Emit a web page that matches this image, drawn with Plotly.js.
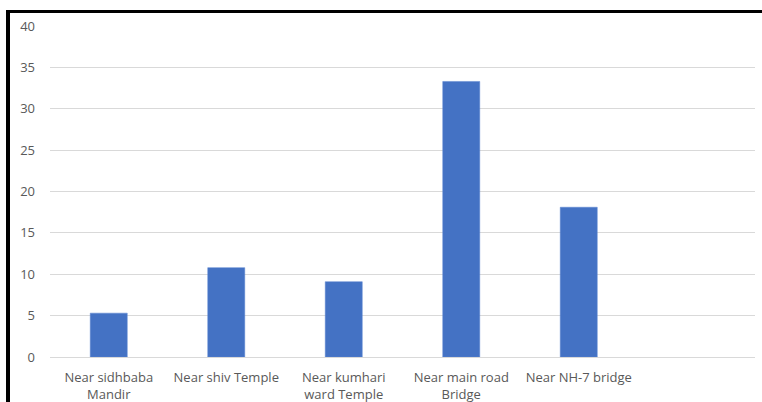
<!DOCTYPE html>
<html>
<head>
<meta charset="utf-8">
<script src="https://cdn.plot.ly/plotly-3.0.1.min.js"></script>
<style>
html,body{margin:0;padding:0;background:#fff;}
#wrap{position:relative;width:762px;height:402px;overflow:hidden;}
#chart{position:absolute;left:0;top:0;width:762px;height:402px;}
#frame{position:absolute;left:6px;top:10px;width:760px;height:400px;border-left:4px solid #000;border-top:3px solid #000;box-sizing:border-box;pointer-events:none;}
</style>
</head>
<body>
<div id="wrap"><div id="chart"></div><div id="frame"></div></div>
<script>
const categories = ["Near sidhbaba<br>Mandir", "Near shiv Temple", "Near kumhari<br>ward Temple", "Near main road<br>Bridge", "Near NH-7 bridge"];
const values = [5.3, 10.8, 9.1, 33.3, 18.1];
const yTicks = [0, 5, 10, 15, 20, 25, 30, 35, 40];

const trace = {
  type: "bar",
  x: categories,
  y: values,
  marker: {color: "#4472C4", line: {color: "#5B85D0", width: 0.5}},
  hoverinfo: "x+y"
};

const layout = {
  width: 762, height: 402,
  margin: {l: 50, r: 7, t: 26, b: 44.5},
  paper_bgcolor: "#ffffff",
  plot_bgcolor: "#ffffff",
  bargap: 0.685,
  showlegend: false,
  font: {family: "Open Sans, Liberation Sans, sans-serif", color: "#595959", size: 13},
  xaxis: {
    type: "category",
    range: [-0.5, 5.5],
    showgrid: false,
    showline: true,
    linecolor: "#d9d9d9",
    linewidth: 1,
    ticks: "",
    ticklabelstandoff: 8,
    tickfont: {size: 13, color: "#595959"},
    fixedrange: true
  },
  yaxis: {
    range: [0, 40],
    tickvals: yTicks,
    ticktext: yTicks.map(String),
    showgrid: true,
    gridcolor: "#d9d9d9",
    gridwidth: 1,
    zeroline: false,
    showline: false,
    ticks: "",
    ticklabelstandoff: 14,
    tickfont: {size: 13, color: "#595959"},
    fixedrange: true
  }
};

Plotly.newPlot("chart", [trace], layout, {displayModeBar: false, staticPlot: true});
</script>
</body>
</html>
